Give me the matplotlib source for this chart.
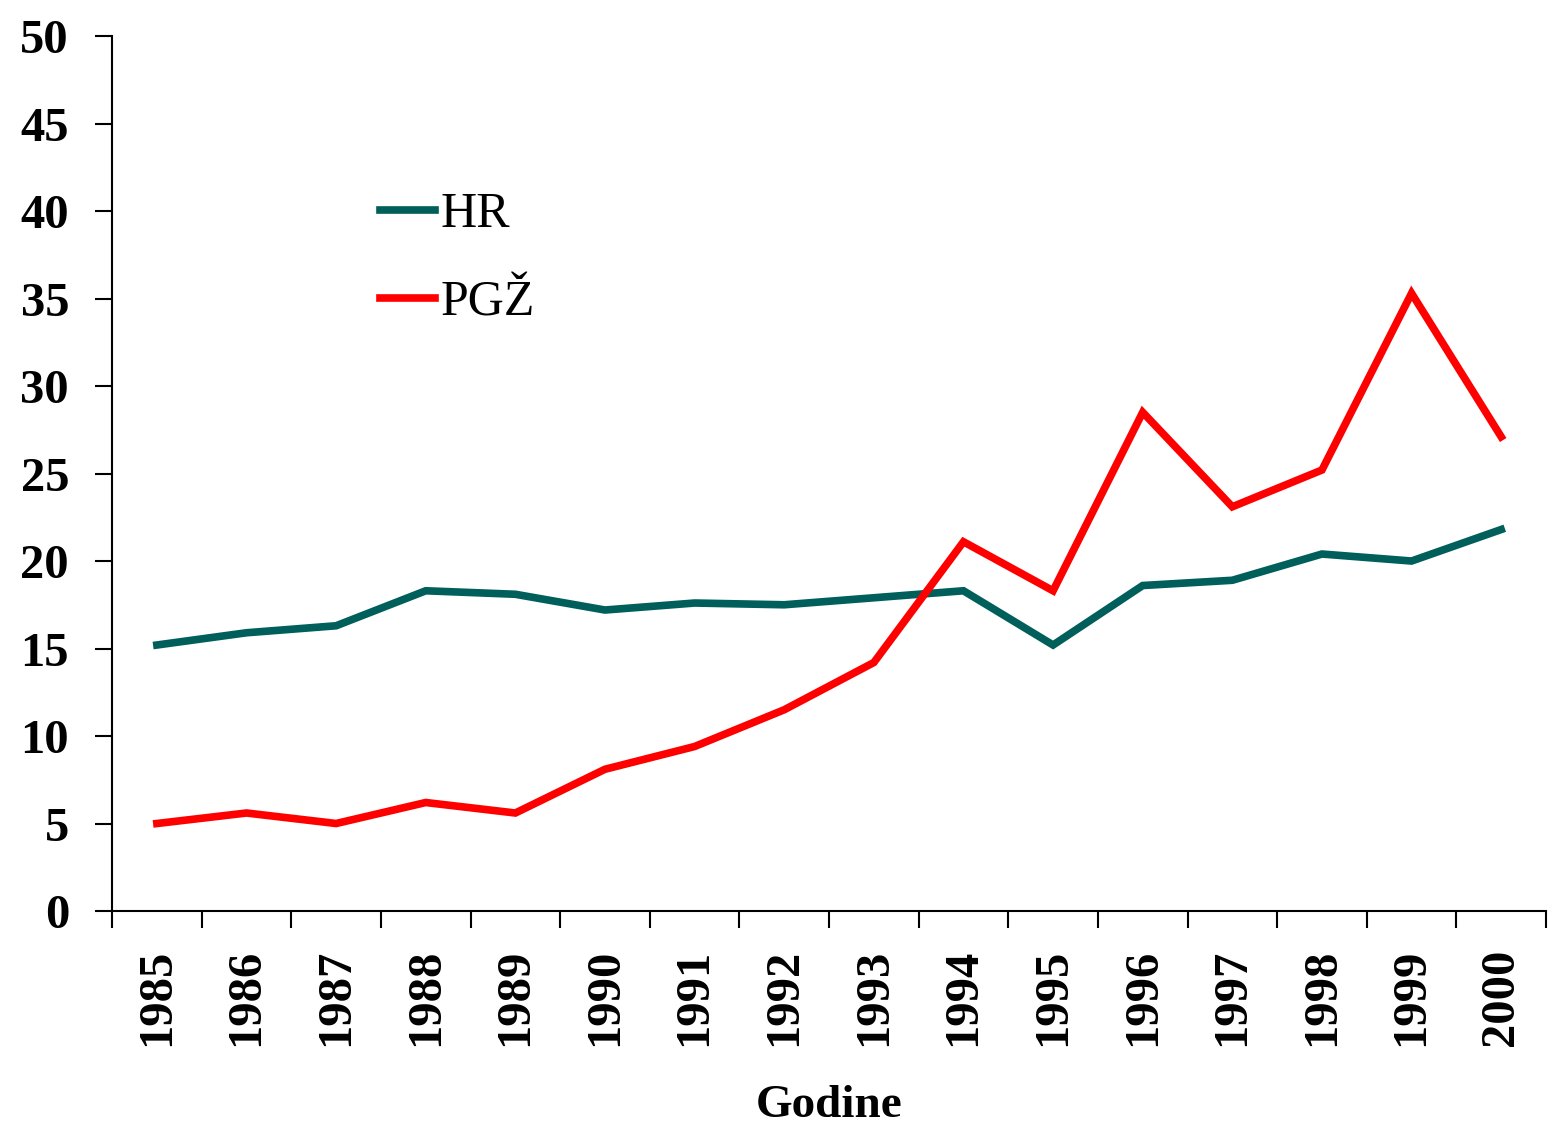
import matplotlib
matplotlib.use("Agg")
import matplotlib.pyplot as plt
from matplotlib.ticker import FixedLocator

# years and the two series (HR = Croatia, PGŽ = Primorje-Gorski Kotar county)
years = ['1985', '1986', '1987', '1988', '1989', '1990', '1991', '1992',
         '1993', '1994', '1995', '1996', '1997', '1998', '1999', '2000']
hr = [15.2, 15.9, 16.3, 18.3, 18.1, 17.2, 17.6, 17.5,
      17.9, 18.3, 15.2, 18.6, 18.9, 20.4, 20.0, 21.8]
pgz = [5.0, 5.6, 5.0, 6.2, 5.6, 8.1, 9.4, 11.5,
       14.2, 21.1, 18.3, 28.5, 23.1, 25.2, 35.3, 27.1]

plt.rcParams['font.family'] = ['Liberation Serif', 'DejaVu Serif']

fig = plt.figure(figsize=(15.48, 11.3), dpi=100)
ax = fig.add_axes([0.0724, 0.1938, 0.9263, 0.7743])

x = range(len(years))
ax.plot(x, hr, color='#005F5A', lw=5.5, label='HR', solid_joinstyle='miter')
ax.plot(x, pgz, color='#FF0000', lw=5.5, label='PGŽ', solid_joinstyle='miter')

ax.set_xlim(-0.5, len(years) - 0.5)
ax.set_ylim(0, 50)
ax.set_yticks(range(0, 51, 5))

# category labels at the centres, tick marks on the boundaries
ax.set_xticks(list(x))
ax.set_xticklabels(years, rotation=90, fontsize=35, fontweight='bold')
ax.xaxis.set_minor_locator(FixedLocator([i - 0.5 for i in range(len(years) + 1)]))
ax.tick_params(axis='x', which='major', length=0, pad=27)
ax.tick_params(axis='x', which='minor', length=12, width=1.5, direction='out')
ax.tick_params(axis='y', length=12, width=1.5, pad=19, labelsize=35)
for lbl in ax.get_yticklabels():
    lbl.set_fontweight('bold')

for side in ('top', 'right'):
    ax.spines[side].set_visible(False)
for side in ('left', 'bottom'):
    ax.spines[side].set_linewidth(1.5)

ax.set_xlabel('Godine', fontsize=34, fontweight='bold', labelpad=28)

ax.legend(loc='center left', bbox_to_anchor=(0.187, 0.745), frameon=False,
          fontsize=36, handlelength=1.1, handletextpad=0.1, labelspacing=0.83,
          borderpad=0, borderaxespad=0)

fig.savefig('out.png', dpi=100)
